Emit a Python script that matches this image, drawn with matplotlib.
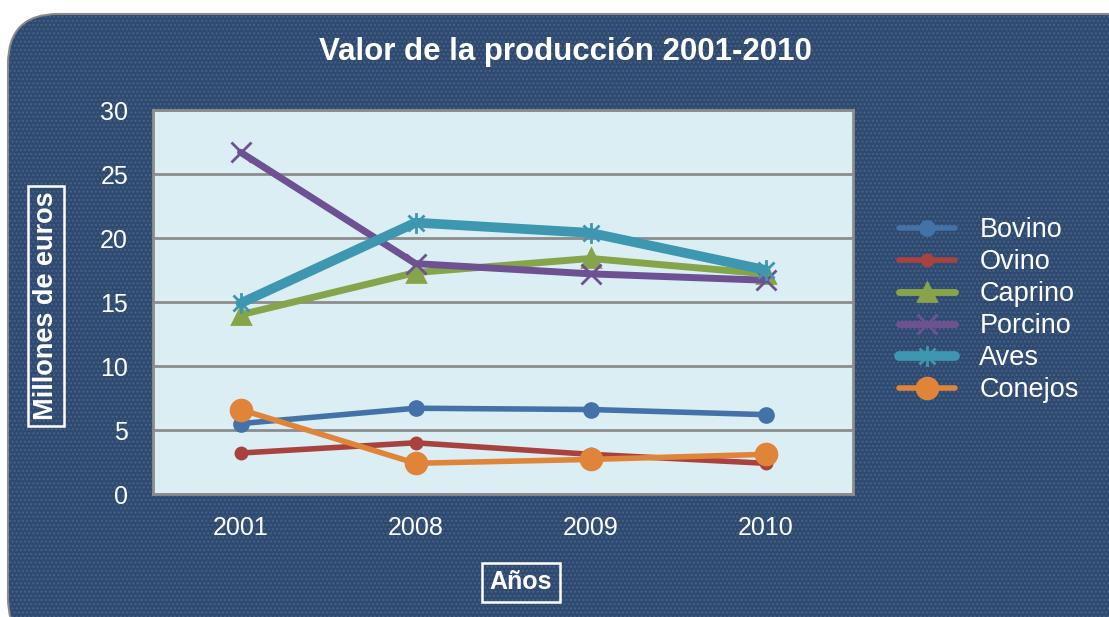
import matplotlib
matplotlib.use("Agg")
import matplotlib.pyplot as plt
from matplotlib.patches import FancyBboxPatch
from matplotlib.path import Path
from matplotlib.lines import Line2D
import numpy as np

years = ["2001", "2008", "2009", "2010"]
bovino = [5.5, 6.7, 6.6, 6.2]
ovino = [3.2, 4.0, 3.1, 2.4]
caprino = [14.0, 17.3, 18.4, 17.2]
porcino = [26.7, 18.0, 17.2, 16.7]
aves = [14.9, 21.2, 20.4, 17.5]
conejos = [6.6, 2.4, 2.7, 3.1]
yticks = [0, 5, 10, 15, 20, 25, 30]

W, H = 1109, 617
fig = plt.figure(figsize=(W / 100, H / 100), dpi=100)
fig.patch.set_facecolor("white")

NAVY = "#2F4A70"
frame = FancyBboxPatch((8 / W, -0.05), (W + 40) / W, (617 - 14) / H + 0.05,
                       boxstyle="round,pad=0,rounding_size=0.045",
                       transform=fig.transFigure, facecolor=NAVY,
                       edgecolor="#8A8A8A", linewidth=1.5, mutation_aspect=W / H,
                       zorder=-10)
fig.patches.append(frame)
tex = FancyBboxPatch((8 / W, -0.05), (W + 40) / W, (617 - 14) / H + 0.05,
                     boxstyle="round,pad=0,rounding_size=0.045",
                     transform=fig.transFigure, facecolor="none",
                     edgecolor="#5C7596", linewidth=0, hatch="....",
                     mutation_aspect=W / H, alpha=0.5, zorder=-9)
fig.patches.append(tex)

L, R, T, B = 153, 853, 110, 494
ax = fig.add_axes([L / W, 1 - B / H, (R - L) / W, (B - T) / H], zorder=2)
ax.set_facecolor("#DBEEF4")
ax.set_xlim(-0.5, 3.5)
ax.set_ylim(0, 30)
x = np.arange(len(years))

star = Path([(-1, -1), (1, 1), (-1, 1), (1, -1), (0, -1.3), (0, 1.3)],
            [Path.MOVETO, Path.LINETO, Path.MOVETO, Path.LINETO, Path.MOVETO, Path.LINETO])

series = [
    ("Bovino", bovino, "#4472A8", 4, "o", 10),
    ("Ovino", ovino, "#A8423F", 4, "o", 8),
    ("Caprino", caprino, "#86A449", 5, "^", 13),
    ("Porcino", porcino, "#6E5193", 5, "x", 14),
    ("Aves", aves, "#3D97B0", 7, star, 15),
    ("Conejos", conejos, "#E0843A", 4, "o", 15),
]
handles = []
for name, vals, col, lw, mk, ms in series:
    ax.plot(x, vals, color=col, lw=lw, marker=mk, ms=ms, mec=col, mfc=col,
            mew=2, solid_capstyle="round", zorder=3)
    handles.append(Line2D([0], [0], color=col, lw=lw, marker=mk, ms=ms, mec=col,
                          mfc=col, mew=2, solid_capstyle="round"))

ax.set_yticks(yticks)
ax.set_xticks(x)
ax.set_xticklabels(years)
ax.grid(axis="y", color="#8C8C8C", lw=2)
ax.set_axisbelow(True)
ax.tick_params(length=0, colors="white")
ax.tick_params(axis="y", pad=18)
ax.tick_params(axis="x", pad=16)
for lab in ax.get_xticklabels() + ax.get_yticklabels():
    lab.set_family(["Liberation Sans Narrow", "Liberation Sans"])
    lab.set_fontsize(18)
for s in ax.spines.values():
    s.set_color("#8C8C8C")
    s.set_linewidth(2)

fig.text(565 / W, 1 - 52 / H, "Valor de la producción 2001-2010", ha="center",
         va="center", color="white", fontsize=22.5, fontweight="bold",
         family=["Liberation Sans"])

fig.text(46 / W, 1 - 306 / H, "Millones de euros", rotation=90, ha="center",
         va="center", color="white", fontsize=19.5, fontweight="bold",
         family=["Liberation Sans"],
         bbox=dict(facecolor="none", edgecolor="white", linewidth=1.8,
                   boxstyle="square,pad=0.2"))
fig.text(521 / W, 1 - 582 / H, "Años", ha="center", va="center", color="white",
         fontsize=18, fontweight="bold", family=["Liberation Sans"],
         bbox=dict(facecolor="none", edgecolor="white", linewidth=1.8,
                   boxstyle="square,pad=0.3"))

leg = fig.legend(handles, [s[0] for s in series], loc="upper left",
                 bbox_to_anchor=(875 / W, 1 - 193 / H), frameon=False,
                 prop=dict(family="Liberation Sans", size=19.5), labelcolor="white",
                 handlelength=2.05, handletextpad=0.9, labelspacing=0.22)

fig.savefig("out.png", dpi=100, facecolor="white")
